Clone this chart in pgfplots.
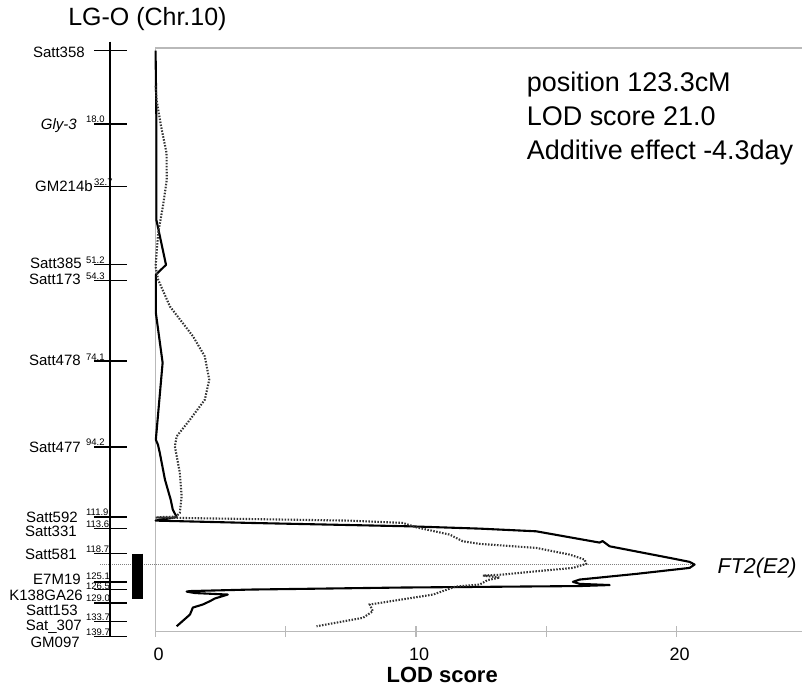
\documentclass[border=0pt]{standalone}
\usepackage{fontspec}
\setmainfont{Liberation Sans}
\usepackage{pgfplots}
\pgfplotsset{compat=1.18}
\newcommand\fs[1]{\fontsize{#1}{#1}\selectfont}
\begin{document}
\begin{tikzpicture}
\begin{axis}[
  scale only axis, width=647.3pt, height=584pt,
  xmin=0, xmax=24.829, ymin=-0.644, ymax=138.57,
  y dir=reverse,
  clip=false,
  axis line style={draw=none},
  xtick={0,5,10,15,20}, xticklabels={0,,10,,20},
  ytick=\empty,
  xtick pos=bottom,
  tick align=center,
  major tick length=11pt,
  tick style={gray!55, line width=1.2pt},
  xticklabel style={font=\fs{18}, yshift=-7pt, xshift=3pt},
]
% axis frame (gray)
\draw[gray!55, line width=1.2pt] (axis cs:0,138.57) -- (axis cs:0,-0.644) -- (axis cs:24.829,-0.644);
\draw[gray!55, line width=1.2pt] (axis cs:0,138.57) -- (axis cs:24.829,138.57);
% QTL peak line
\addplot[gray, line width=0.8pt, dash pattern=on 1pt off 1pt] coordinates {(-2.133,122.67) (20.6,122.67)};
% solid LOD curve
\addplot[black, line width=2.1pt, line join=round] coordinates {
(0,0) (0.03,16.52) (0.03,40.36) (0.40,51.08) (0.01,53.47) (0.01,62.53) (0.27,74.45)
(0.01,92.80) (0.09,93.99) (0.16,95.90) (0.36,102.34) (0.58,107.10) (0.66,109.49)
(0.81,111.27) (0.16,111.87) (0,112.11) (3.62,112.66) (9.75,113.47) (12.44,114.02)
(14.61,114.66) (17.04,117.35) (17.16,117.00) (17.43,118.24) (19.73,121.00) (20.50,121.95)
(20.69,122.60) (20.50,123.39) (18.45,124.82) (16.28,126.17) (16.02,126.72) (16.28,127.20)
(17.43,127.48) (16.28,127.72) (9.37,128.08) (3.62,128.56) (1.32,128.92) (1.19,129.04)
(1.51,129.39) (2.77,129.75) (2.27,130.70) (2.08,131.35) (1.81,132.13) (1.43,132.85)
(1.32,134.52) (0.81,137.31)};
% dotted LOD curve
\addplot[black!80, line width=2.1pt, dash pattern=on 1.5pt off 1.5pt] coordinates {
(0,8.41) (0.04,11.75) (0.20,17.71) (0.42,24.39) (0.43,30.82) (0.28,37.19) (0.10,43.46)
(0,51.49) (0.10,54.66) (0.55,61.02) (1.44,68.18) (1.89,72.94) (2.06,78.50) (1.89,83.27)
(1.32,88.03) (0.81,92.01) (0.74,94.40) (0.93,100.67) (1.00,106.32) (0.93,110.27)
(0.78,111.16) (0.16,111.27) (0,111.39) (0.93,111.47) (7.45,112.11) (9.49,112.66)
(10.01,113.71) (11.29,115.45) (11.79,117.04) (12.44,117.66) (14.61,118.62) (15.89,120.21)
(16.47,121.41) (16.53,122.43) (16.02,123.39) (14.61,124.20) (13.33,124.98) (12.57,125.22)
(13.21,125.70) (12.75,126.29) (12.44,127.36) (11.52,127.84) (10.65,129.75) (8.22,132.13)
(8.34,133.73) (7.96,135.30) (6.18,137.31)};
% linkage map
\addplot[black, line width=1.3pt] coordinates {(-1.753,-2.15) (-1.753,139.69)};
\addplot[only marks, mark=-, mark size=16.2pt, mark options={line width=1.3pt, black}] coordinates {
(-1.734,0) (-1.734,17.47) (-1.734,32.42) (-1.734,51.08) (-1.734,54.83) (-1.734,74.04)
(-1.734,94.54) (-1.734,111.23) (-1.734,114.02) (-1.734,119.98) (-1.734,126.72)
(-1.734,128.56) (-1.734,131.73) (-1.734,136.26) (-1.734,139.69)};
\addplot[black, line width=11pt, line cap=butt] coordinates {(-0.687,119.98) (-0.687,130.70)};
\coordinate (P0) at (axis cs:-5.9724,-12.086);
\end{axis}
\begin{scope}[shift={(P0)}, x=1pt, y=-1pt, every node/.style={inner sep=0pt}]
\path (0,0) rectangle (803,696);
\node[anchor=base, font=\fs{25}] at (147.5,26) {LG-O (Chr.10)};
% marker names
\node[anchor=base east, font=\fs{15}] at (85,57.3) {Satt358};
\node[anchor=base east, font=\fs{15}\itshape] at (77,129.3) {Gly-3};
\node[anchor=base east, font=\fs{15}] at (93,192) {GM214b};
\node[anchor=base east, font=\fs{15}] at (82,268.3) {Satt385};
\node[anchor=base east, font=\fs{15}] at (81,285) {Satt173};
\node[anchor=base east, font=\fs{15}] at (81,366) {Satt478};
\node[anchor=base east, font=\fs{15}] at (81,452.7) {Satt477};
\node[anchor=base east, font=\fs{15}] at (78,522.7) {Satt592};
\node[anchor=base east, font=\fs{15}] at (77,536.7) {Satt331};
\node[anchor=base east, font=\fs{15}] at (77,560) {Satt581};
\node[anchor=base east, font=\fs{15}] at (81,585) {E7M19};
\node[anchor=base east, font=\fs{15}] at (83,600.7) {K138GA26};
\node[anchor=base east, font=\fs{15}] at (78,616) {Satt153};
\node[anchor=base east, font=\fs{15}] at (82,631.4) {Sat\_307};
\node[anchor=base east, font=\fs{15}] at (80,648) {GM097};
% positions
\node[anchor=base west, font=\fs{9.5}] at (86,123) {18.0};
\node[anchor=base west, font=\fs{9.5}] at (94,185.7) {32.7};
\node[anchor=base west, font=\fs{9.5}] at (86,264) {51.2};
\node[anchor=base west, font=\fs{9.5}] at (86,279.7) {54.3};
\node[anchor=base west, font=\fs{9.5}] at (86,360.3) {74.1};
\node[anchor=base west, font=\fs{9.5}] at (86,446.3) {94.2};
\node[anchor=base west, font=\fs{9.5}] at (86,516) {111.9};
\node[anchor=base west, font=\fs{9.5}] at (86,527.8) {113.6};
\node[anchor=base west, font=\fs{9.5}] at (86,552.8) {118.7};
\node[anchor=base west, font=\fs{9.5}] at (86,580) {125.1};
\node[anchor=base west, font=\fs{9.5}] at (86,589.5) {126.5};
\node[anchor=base west, font=\fs{9.5}] at (86,602.2) {129.0};
\node[anchor=base west, font=\fs{9.5}] at (86,621) {133.7};
\node[anchor=base west, font=\fs{9.5}] at (86,635.5) {139.7};
% annotations
\node[anchor=base west, font=\fs{27}] at (527,91.7) {position 123.3cM};
\node[anchor=base west, font=\fs{27}] at (527,126) {LOD score 21.0};
\node[anchor=base west, font=\fs{27}] at (527,160) {Additive effect -4.3day};
\node[anchor=base west, font=\fs{21.5}\itshape] at (718,573.5) {FT2(E2)};
\node[anchor=base, font=\fs{22}\bfseries] at (442.5,683) {LOD score};
\end{scope}
\end{tikzpicture}
\end{document}
